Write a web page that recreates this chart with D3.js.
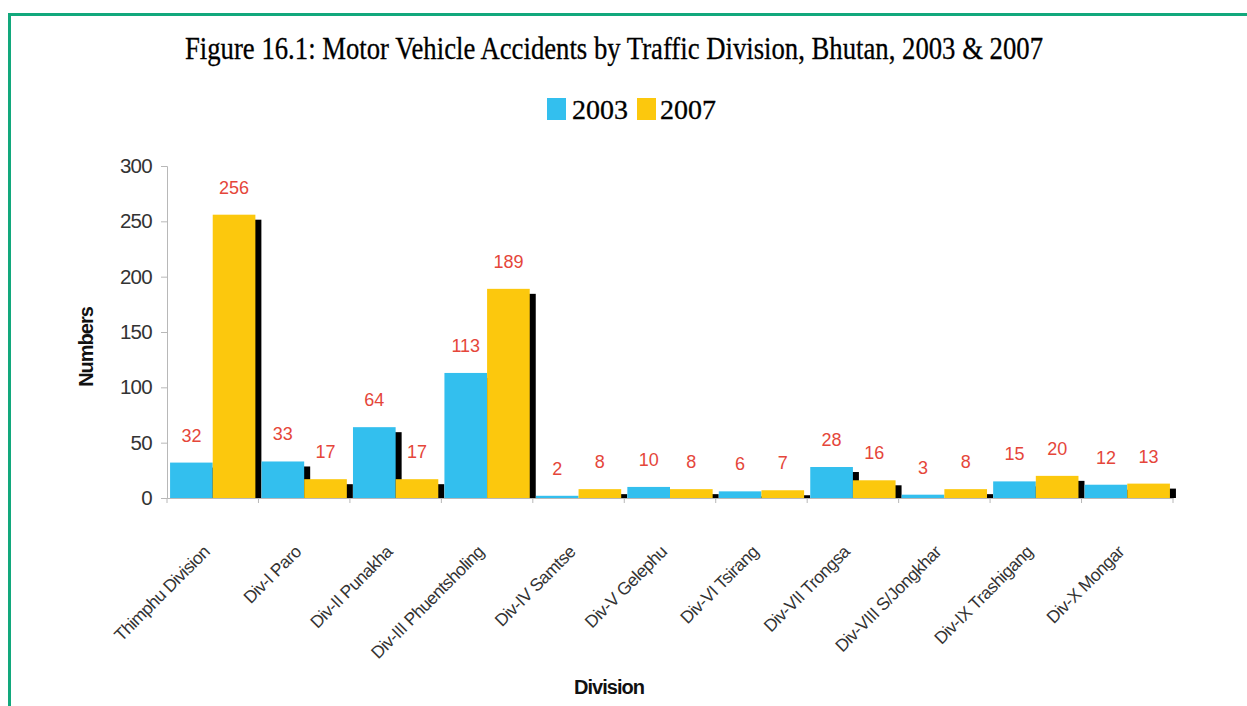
<!DOCTYPE html>
<html>
<head>
<meta charset="utf-8">
<script src="https://cdn.jsdelivr.net/npm/d3@7"></script>
<style>
  body { margin: 0; background: #fff; }
  svg { display: block; }
</style>
</head>
<body>
<div class="chart"></div>
<script>
const divisions = [
  'Thimphu Division', 'Div-I Paro', 'Div-II Punakha', 'Div-III Phuentsholing',
  'Div-IV Samtse', 'Div-V Gelephu', 'Div-VI Tsirang', 'Div-VII Trongsa',
  'Div-VIII S/Jongkhar', 'Div-IX Trashigang', 'Div-X Mongar',
];
const years = ['2003', '2007'];
const values2003 = [32, 33, 64, 113, 2, 10, 6, 28, 3, 15, 12];
const values2007 = [256, 17, 17, 189, 8, 8, 7, 16, 8, 20, 13];
const yTicks = [0, 50, 100, 150, 200, 250, 300];

const width = 1247;
const height = 706;
const plot = { left: 167, right: 1173, top: 166, bottom: 498 };
const colors = { '2003': '#33bfee', '2007': '#fcc80d' };

const rows = divisions.map((d, i) => ({ division: d, '2003': values2003[i], '2007': values2007[i] }));

const svg = d3
  .select('.chart')
  .append('svg')
  .attr('width', width)
  .attr('height', height);

// green frame (left + top only)
svg
  .append('path')
  .attr('d', `M9.5,${height} V14.5 H${width}`)
  .attr('fill', 'none')
  .attr('stroke', '#12a87c')
  .attr('stroke-width', 3);

const x0 = d3.scaleBand().domain(divisions).range([plot.left, plot.right]).padding(0);
const x1 = d3
  .scaleBand()
  .domain(years)
  .range([0, x0.bandwidth()])
  .paddingInner(0)
  .paddingOuter(0.072);
const y = d3.scaleLinear().domain([0, 300]).range([plot.bottom, plot.top]);

// title
svg
  .append('text')
  .attr('x', 185)
  .attr('y', 59)
  .attr('textLength', 858)
  .attr('lengthAdjust', 'spacingAndGlyphs')
  .style('font-family', "'Liberation Serif', serif")
  .style('font-size', '31px')
  .style('fill', '#000')
  .style('stroke', '#000')
  .style('stroke-width', 0.3)
  .text('Figure 16.1: Motor Vehicle Accidents by Traffic Division, Bhutan, 2003 & 2007');

// legend
const legend = [
  { key: '2003', sx: 547, tx: 572 },
  { key: '2007', sx: 637, tx: 660 },
];
legend.forEach(l => {
  svg
    .append('rect')
    .attr('x', l.sx)
    .attr('y', 98)
    .attr('width', 19)
    .attr('height', 22)
    .attr('fill', colors[l.key]);
  svg
    .append('text')
    .attr('x', l.tx)
    .attr('y', 119)
    .attr('textLength', 56)
    .attr('lengthAdjust', 'spacingAndGlyphs')
    .style('font-family', "'Liberation Serif', serif")
    .style('font-size', '28px')
    .style('fill', '#000')
    .style('stroke', '#000')
    .style('stroke-width', 0.3)
    .text(l.key);
});

// y axis
const yAxis = svg
  .append('g')
  .attr('transform', `translate(${plot.left},0)`)
  .call(d3.axisLeft(y).tickValues(yTicks).tickSize(6).tickPadding(9));
yAxis.select('.domain').attr('stroke', '#b8b8b8');
yAxis.selectAll('.tick line').attr('stroke', '#b8b8b8');
yAxis
  .selectAll('.tick text')
  .style('font-family', "'Liberation Sans', sans-serif")
  .style('font-size', '20.5px')
  .style('letter-spacing', '-0.7px')
  .style('fill', '#333');

// x axis
const xAxis = svg
  .append('g')
  .attr('transform', `translate(0,${plot.bottom})`)
  .call(d3.axisBottom(x0).tickSize(0).tickFormat(''));
xAxis.select('.domain').attr('stroke', '#b8b8b8');
xAxis
  .selectAll('line.sep')
  .data(d3.range(divisions.length + 1))
  .enter()
  .append('line')
  .attr('class', 'sep')
  .attr('x1', i => plot.left + i * x0.step())
  .attr('x2', i => plot.left + i * x0.step())
  .attr('y1', 0)
  .attr('y2', 5)
  .attr('stroke', '#b8b8b8');

svg
  .append('g')
  .selectAll('text')
  .data(divisions)
  .enter()
  .append('text')
  .attr('text-anchor', 'end')
  .attr('transform', d => `translate(${x0(d) + x0.bandwidth() / 2 - 2},${plot.bottom + 55}) rotate(-45)`)
  .style('font-family', "'Liberation Sans', sans-serif")
  .style('font-size', '17.5px')
  .style('letter-spacing', '-0.5px')
  .style('fill', '#333')
  .text(d => d);

// axis titles
svg
  .append('text')
  .attr('transform', `translate(93,347) rotate(-90)`)
  .attr('text-anchor', 'middle')
  .style('font-family', "'Liberation Sans', sans-serif")
  .style('font-size', '20px')
  .style('font-weight', 'bold')
  .style('letter-spacing', '-1px')
  .style('fill', '#111')
  .text('Numbers');
svg
  .append('text')
  .attr('x', 609)
  .attr('y', 694)
  .attr('text-anchor', 'middle')
  .style('font-family', "'Liberation Sans', sans-serif")
  .style('font-size', '20px')
  .style('font-weight', 'bold')
  .style('letter-spacing', '-1px')
  .style('fill', '#111')
  .text('Division');

const bars = rows.flatMap(r => years.map(k => ({ division: r.division, key: k, value: r[k] })));

// drop shadows, drawn first so the bars cover them
svg
  .append('g')
  .selectAll('rect')
  .data(bars)
  .enter()
  .append('rect')
  .attr('x', d => x0(d.division) + x1(d.key) + 6)
  .attr('y', d => Math.min(y(d.value) + 5, plot.bottom))
  .attr('width', x1.bandwidth())
  .attr('height', d => Math.max(plot.bottom - y(d.value) - 5, 0))
  .attr('fill', '#000');

svg
  .append('g')
  .selectAll('rect')
  .data(bars)
  .enter()
  .append('rect')
  .attr('x', d => x0(d.division) + x1(d.key))
  .attr('y', d => y(d.value))
  .attr('width', x1.bandwidth())
  .attr('height', d => plot.bottom - y(d.value))
  .attr('fill', d => colors[d.key]);

// value labels
svg
  .append('g')
  .selectAll('text')
  .data(bars)
  .enter()
  .append('text')
  .attr('x', d => x0(d.division) + x1(d.key) + x1.bandwidth() / 2)
  .attr('y', d => y(d.value) - 21)
  .attr('text-anchor', 'middle')
  .style('font-family', "'Liberation Sans', sans-serif")
  .style('font-size', '18px')
  .style('fill', '#e5463a')
  .text(d => d.value);
</script>
</body>
</html>
